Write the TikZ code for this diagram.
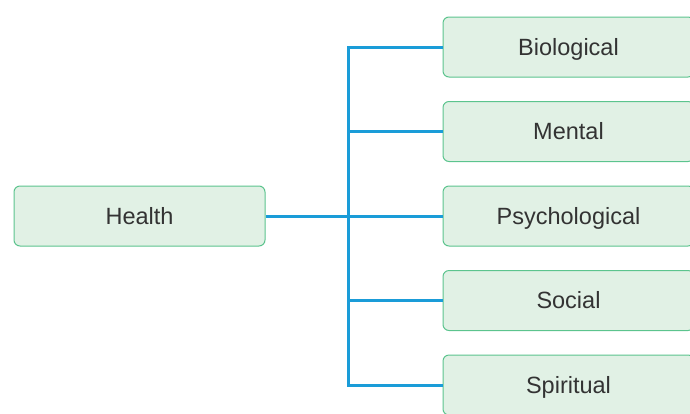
\documentclass[tikz,border=0pt]{standalone}
\usepackage{fontspec}
\setmainfont{Liberation Sans}
\definecolor{boxfill}{HTML}{E1F1E5}
\definecolor{boxline}{HTML}{5CC48E}
\definecolor{conn}{HTML}{1A9CD8}
\definecolor{txt}{HTML}{333333}
\begin{document}
\begin{tikzpicture}[x=1pt,y=-1pt,
  topic/.style={draw=boxline, line width=1pt, fill=boxfill, rounded corners=6pt,
    minimum width=251pt, minimum height=60pt, inner sep=0pt, text=txt,
    text height=16.8pt, text depth=0pt,
    font=\fontsize{23.5}{27}\selectfont},
  link/.style={draw=conn, line width=3pt}]
\useasboundingbox (0,0) rectangle (690,413);
\clip (0,0) rectangle (690,413);
\node[topic] (health) at (139.5,216) {Health};
\node[topic] (bio) at (568.5,47) {Biological};
\node[topic] (mental) at (568.5,131.5) {Mental};
\node[topic] (psych) at (568.5,216) {Psychological};
\node[topic] (social) at (568.5,300.5) {Social};
\node[topic] (spirit) at (568.5,385) {Spiritual};
\coordinate (top) at (348,47);
\coordinate (bot) at (348,385);
\draw[link] (health.east) -- (psych.west);
\draw[link] (bio.west) -- (top) -- (bot) -- (spirit.west);
\draw[link] (mental.west) -- (mental.west -| top);
\draw[link] (social.west) -- (social.west -| top);
\end{tikzpicture}
\end{document}
